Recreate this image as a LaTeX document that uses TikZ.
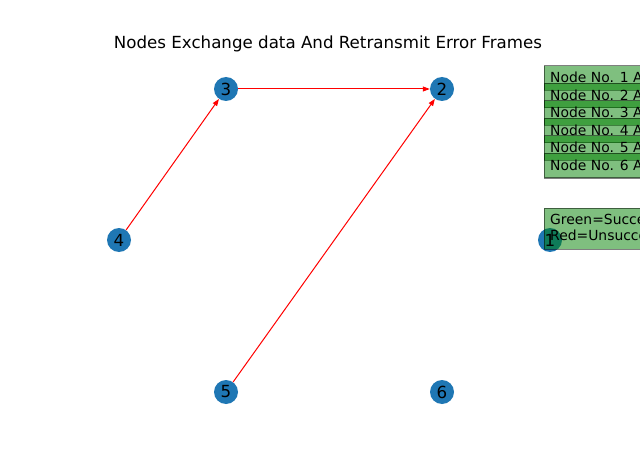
\documentclass[tikz,border=0pt]{standalone}
\usepackage{fontspec}
\setmainfont{DejaVu Sans}
\usetikzlibrary{arrows.meta}
\definecolor{nodeblue}{HTML}{1F77B4}
\definecolor{boxgreen}{HTML}{008000}
\tikzset{
  vert/.style={circle, fill=nodeblue, draw=none, minimum size=24, inner sep=0pt,
    font=\fontsize{16.67}{20}\selectfont},
  link/.style={red, line width=1pt, -{Triangle[length=7pt,width=5pt]}},
  legendbox/.style={fill=boxgreen, draw=black, line width=1pt, opacity=0.5},
  legendtext/.style={anchor=base west, inner sep=0pt,
    font=\fontsize{13.9}{16.7}\selectfont},
  titletext/.style={font=\fontsize{16.67}{20}\selectfont}
}
\begin{document}
\begin{tikzpicture}[x=1pt,y=-1pt]
  \useasboundingbox (0,0) rectangle (640,476);
  \clip (0,0) rectangle (640,476);
  \fill[white] (0,0) rectangle (640,476);

  % title
  \node[titletext] (title) at (328,44) {Nodes Exchange data And Retransmit Error Frames};

  % network nodes
  \node[vert] (n1) at (550,240) {};
  \node[vert] (n2) at (442,89)  {2};
  \node[vert] (n3) at (226,89)  {3};
  \node[vert] (n4) at (119,240) {4};
  \node[vert] (n5) at (226,392) {5};
  \node[vert] (n6) at (442,392) {6};

  % transmissions
  \draw[link] (n4) -- (n3);
  \draw[link] (n3) -- (n2);
  \draw[link] (n5) -- (n2);

  % per-node status boxes
  \foreach \k in {1,...,6} {
    \pgfmathsetmacro{\top}{66+17.5*(\k-1)}
    \path[legendbox] (544,\top) rectangle (660,\top+24.5);
    \node[legendtext] (status\k) at (550,\top+17) {Node No. \k\ A};
  }

  % colour key
  \path[legendbox] (544,208) rectangle (660,249);
  \node[legendtext] (keygreen) at (550,224) {Green=Successful};
  \node[legendtext] (keyred) at (550,240) {Red=Unsuccessful};
  \node[font=\fontsize{16.67}{20}\selectfont] (n1label) at (n1) {1};
\end{tikzpicture}
\end{document}
